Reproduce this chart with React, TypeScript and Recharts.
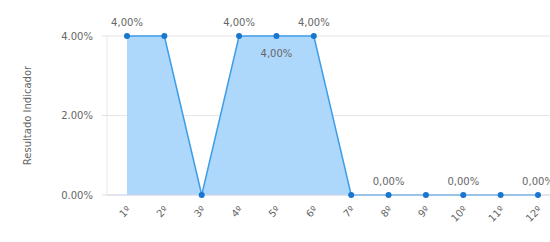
import { AreaChart, Area, XAxis, YAxis, CartesianGrid, LabelList } from "recharts";

const CATEGORIES = ["1º", "2º", "3º", "4º", "5º", "6º", "7º", "8º", "9º", "10º", "11º", "12º"];
const RESULTADO = [4, 4, 0, 4, 4, 4, 0, 0, 0, 0, 0, 0];
// which points show a value label (the others were hidden to avoid overlap)
const LABEL_POS = ["top", null, null, "top", "bottom", "top", null, "top", null, "top", null, "top"];
const Y_TICKS = [0, 2, 4];

const data = CATEGORIES.map((cat, i) => ({ cat, value: RESULTADO[i], pos: LABEL_POS[i] }));

const FONT = "'DejaVu Sans', sans-serif";
const TEXT_GRAY = "#666666";

const fmtTick = (v: number) => `${v.toFixed(2)}%`;
const fmtLabel = (v: number) => `${v.toFixed(2).replace(".", ",")}%`;

const XTick = ({ x, y, payload }: any) => (
  <text
    x={x}
    y={y}
    transform={`rotate(-45, ${x}, ${y})`}
    textAnchor="end"
    fontSize={10}
    fontFamily={FONT}
    fill={TEXT_GRAY}
    dx={-2}
    dy={8}
  >
    {payload.value}
  </text>
);

const PointLabel = (props: any) => {
  const { x, y, index, value } = props;
  const pos = LABEL_POS[index];
  if (!pos) return null;
  return (
    <text
      x={x}
      y={pos === "top" ? y - 10 : y + 21}
      textAnchor="middle"
      fontSize={10}
      fontFamily={FONT}
      fill={TEXT_GRAY}
    >
      {fmtLabel(value)}
    </text>
  );
};

const YLabel = ({ viewBox }: any) => {
  const cx = 27;
  const cy = viewBox.y + viewBox.height / 2;
  return (
    <text
      x={cx}
      y={cy}
      transform={`rotate(-90, ${cx}, ${cy})`}
      textAnchor="middle"
      dominantBaseline="central"
      fontSize={10}
      fontFamily={FONT}
      fill={TEXT_GRAY}
    >
      Resultado Indicador
    </text>
  );
};

export default function App() {
  return (
    <div style={{ position: "absolute", left: 0, top: 0, width: 550, height: 242, overflow: "hidden", background: "#fff" }}>
      <AreaChart width={558} height={242} data={data} margin={{ top: 36, right: 0, left: 0, bottom: 0 }}>
        <CartesianGrid stroke="#e6e6e6" vertical={false} />
        <XAxis
          dataKey="cat"
          interval={0}
          height={47}
          padding={{ left: 20, right: 20 }}
          axisLine={{ stroke: "#ccd6eb" }}
          tickLine={false}
          tick={<XTick />}
        />
        <YAxis
          width={107}
          domain={[0, 4]}
          ticks={Y_TICKS}
          tickFormatter={fmtTick}
          axisLine={{ stroke: "#e8e8e8" }}
          tickLine={{ stroke: "#e0e0e0" }}
          tickSize={5}
          tickMargin={9}
          tick={{ fontSize: 10, fontFamily: FONT, fill: TEXT_GRAY }}
          label={<YLabel />}
        />
        <Area
          type="linear"
          dataKey="value"
          stroke="#3d9de6"
          strokeWidth={1.5}
          fill="#aed8fb"
          fillOpacity={1}
          dot={{ r: 3, fill: "#1a75cf", stroke: "none" }}
          activeDot={false}
          isAnimationActive={false}
        >
          <LabelList dataKey="value" content={<PointLabel />} />
        </Area>
      </AreaChart>
    </div>
  );
}
